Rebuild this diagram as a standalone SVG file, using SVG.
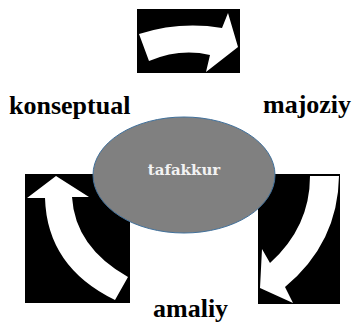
<svg xmlns="http://www.w3.org/2000/svg" width="356" height="322" viewBox="0 0 356 322">
<style>
.box{fill:#000}
.arrow{fill:#fff}
.lbl{font-family:"Liberation Serif","Times New Roman",serif;font-weight:bold;font-size:26px;fill:#000}
.center{font-family:"DejaVu Serif",serif;font-weight:bold;font-size:15px;fill:#f2f2f2}
</style>
<rect width="356" height="322" fill="#fff"/>
<g id="connectors">
  <g id="arrow-top">
    <rect class="box" x="137" y="9" width="103" height="64"/>
    <path class="arrow" d="M139,34 Q180,21 222,28 L228,13 L238,47 L206,72 L210,55 Q180,48 149,61 Z"/>
  </g>
  <g id="arrow-right">
    <rect class="box" x="258" y="174" width="82" height="130"/>
    <path class="arrow" d="M310,176 L339,176 Q338,243 285,287 L293,303 L260,288 L262,249 L270,263 Q310,227 310,176 Z"/>
  </g>
  <g id="arrow-left">
    <rect class="box" x="25" y="174" width="105" height="129"/>
    <path class="arrow" d="M56,176 L89,197 L72,197 Q75,247 128,277 L115,300 Q47,267 45,198 L27,198 Z"/>
  </g>
</g>
<g id="node-tafakkur">
  <ellipse cx="184" cy="175" rx="91" ry="58" fill="#808080" stroke="#41719c" stroke-width="1"/>
  <text class="center" x="184" y="175" text-anchor="middle">tafakkur</text>
</g>
<g id="node-konseptual"><text class="lbl" x="9" y="114">konseptual</text></g>
<g id="node-majoziy"><text class="lbl" x="263" y="113">majoziy</text></g>
<g id="node-amaliy"><text class="lbl" x="153" y="317">amaliy</text></g>
</svg>
